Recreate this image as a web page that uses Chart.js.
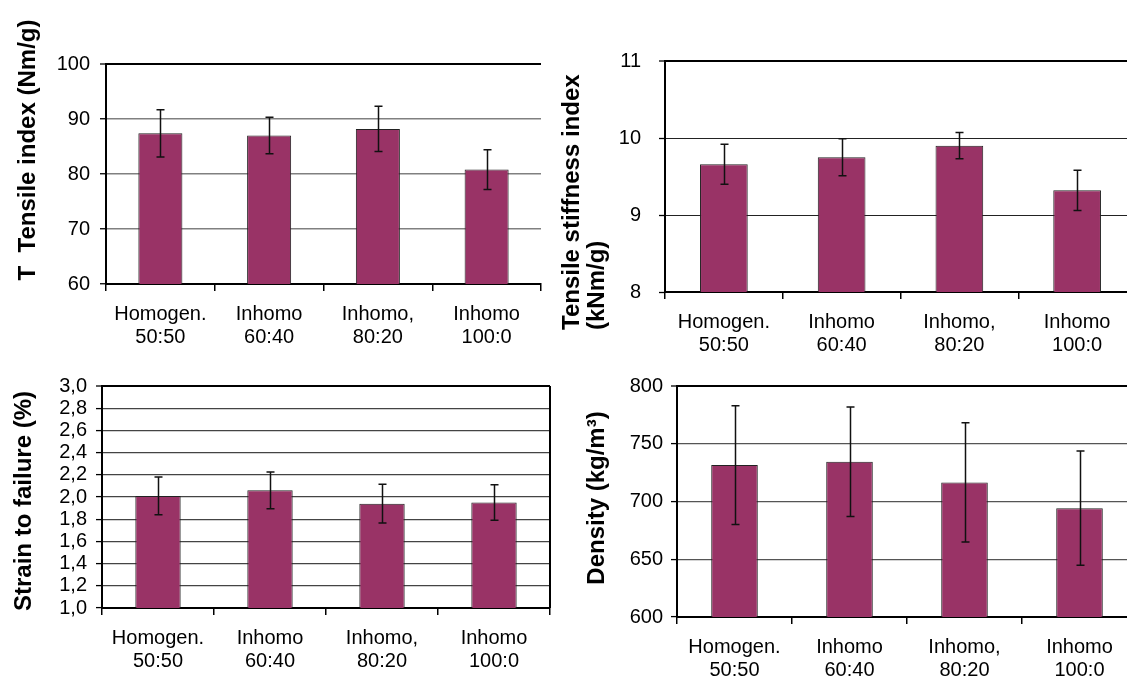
<!DOCTYPE html>
<html>
<head>
<meta charset="utf-8">
<script src="https://cdn.jsdelivr.net/npm/chart.js@4.4.1/dist/chart.umd.min.js"></script>
<style>
  html, body { margin: 0; padding: 0; background: #fff; overflow: hidden; width: 1127px; height: 684px; }
  canvas { position: absolute; }
</style>
</head>
<body>
<canvas id="tensile" width="560" height="350" style="left:0;top:0"></canvas>
<canvas id="stiffness" width="600" height="360" style="left:560px;top:0"></canvas>
<canvas id="strain" width="560" height="334" style="left:0;top:350px"></canvas>
<canvas id="density" width="600" height="334" style="left:560px;top:350px"></canvas>
<script>
// categories shared by all four panels
const categories = [['Homogen.', '50:50'], ['Inhomo', '60:40'], ['Inhomo,', '80:20'], ['Inhomo', '100:0']];

// mean values and +/- error
const tensileIndex = [87.4, 87.0, 88.2, 80.8];
const tensileErr = [4.3, 3.3, 4.1, 3.6];
const stiffnessIndex = [9.66, 9.75, 9.90, 9.32];
const stiffnessErr = [0.26, 0.24, 0.17, 0.26];
const strainToFailure = [2.01, 2.06, 1.94, 1.95];
const strainErr = [0.17, 0.165, 0.175, 0.16];
const density = [731.5, 734.4, 716.5, 694.2];
const densityErr = [51.5, 47.4, 51.6, 49.5];

// y ranges: [min, max, step]
const tensileRange = [60, 100, 10];
const stiffnessRange = [8, 11, 1];
const strainRange = [1.0, 3.0, 0.2];
const densityRange = [600, 800, 50];

const FONT = '"Liberation Sans", Arial, sans-serif';

const errorBars = {
  id: 'errorBars',
  afterDatasetsDraw(chart, args, opts) {
    const ctx = chart.ctx, y = chart.scales.y;
    const vals = chart.data.datasets[0].data;
    ctx.save();
    ctx.strokeStyle = '#111';
    ctx.lineWidth = 1.5;
    chart.getDatasetMeta(0).data.forEach((bar, i) => {
      const top = y.getPixelForValue(vals[i] + opts.errors[i]);
      const bot = y.getPixelForValue(vals[i] - opts.errors[i]);
      const x = Math.round(bar.x) + 0.5;
      ctx.beginPath();
      ctx.moveTo(x, top); ctx.lineTo(x, bot);
      ctx.moveTo(x - 4, top); ctx.lineTo(x + 4, top);
      ctx.moveTo(x - 4, bot); ctx.lineTo(x + 4, bot);
      ctx.stroke();
    });
    ctx.restore();
  }
};

const sideTitles = {
  id: 'sideTitles',
  afterDraw(chart, args, opts) {
    const ctx = chart.ctx;
    const a = chart.chartArea;
    if (opts.rightBorder) {
      ctx.save();
      ctx.strokeStyle = '#000';
      ctx.lineWidth = 2;
      ctx.beginPath();
      ctx.moveTo(a.right, a.top); ctx.lineTo(a.right, a.bottom);
      ctx.stroke();
      ctx.restore();
    }
    (opts.lines || []).forEach(l => {
      ctx.save();
      ctx.translate(l.x, l.y);
      ctx.rotate(-Math.PI / 2);
      ctx.font = 'bold 24px ' + FONT;
      ctx.fillStyle = '#000';
      ctx.textAlign = l.align || 'center';
      ctx.textBaseline = 'middle';
      ctx.fillText(l.text, 0, 0);
      ctx.restore();
    });
  }
};

function barPanel(id, values, errors, range, fmt, geo, titleLines, rightBorder) {
  const [min, max, step] = range;
  const isTop = c => c.tick && Math.abs(c.tick.value - max) < 1e-9;
  return new Chart(document.getElementById(id), {
    type: 'bar',
    data: {
      labels: categories,
      datasets: [{
        data: values,
        backgroundColor: '#993366',
        borderColor: '#222',
        borderWidth: 1,
        categoryPercentage: 1,
        barPercentage: 0.405
      }]
    },
    options: {
      responsive: false,
      animation: false,
      events: [],
      layout: { padding: geo.padding },
      plugins: {
        legend: { display: false },
        tooltip: { enabled: false },
        errorBars: { errors: errors },
        sideTitles: { lines: titleLines, rightBorder: rightBorder }
      },
      scales: {
        x: {
          afterFit(s) { s.height = geo.xHeight; },
          grid: { display: true, drawOnChartArea: false, drawTicks: true, tickLength: 7, color: '#000', lineWidth: 1.5 },
          border: { display: true, color: '#000', width: 2 },
          ticks: { color: '#000', padding: 12, font: { family: FONT, size: 20, lineHeight: 1.16 }, maxRotation: 0, autoSkip: false }
        },
        y: {
          min: min, max: max,
          afterFit(s) { s.width = geo.yWidth; },
          grid: {
            color: c => isTop(c) ? '#000' : geo.gridColor,
            lineWidth: c => isTop(c) ? 2 : geo.gridWidth,
            tickLength: 6, tickColor: '#000', tickWidth: 1.3
          },
          border: { display: true, color: '#000', width: 2 },
          ticks: {
            stepSize: step, color: '#000', padding: geo.tickPad, autoSkip: false,
            font: { family: FONT, size: 20 },
            callback: fmt
          }
        }
      }
    },
    plugins: [errorBars, sideTitles]
  });
}

const plain = v => String(Math.round(v));
const comma = v => v.toFixed(1).replace('.', ',');

barPanel('tensile', tensileIndex, tensileErr, tensileRange, plain,
  { padding: { top: 64, right: 19, bottom: 0, left: 0 }, yWidth: 106, xHeight: 66, tickPad: 10, gridColor: '#808080', gridWidth: 1.5 },
  [{ text: 'T  Tensile index (Nm/g)', x: 28, y: 150 }], false);

barPanel('stiffness', stiffnessIndex, stiffnessErr, stiffnessRange, plain,
  { padding: { top: 61, right: 24, bottom: 0, left: 0 }, yWidth: 105, xHeight: 68, tickPad: 18, gridColor: '#222', gridWidth: 1 },
  [{ text: 'Tensile stiffness index', x: 12, y: 330, align: 'left' },
   { text: '(kNm/g)', x: 37, y: 330, align: 'left' }], false);

barPanel('strain', strainToFailure, strainErr, strainRange, comma,
  { padding: { top: 36, right: 10, bottom: 0, left: 0 }, yWidth: 102, xHeight: 76, tickPad: 9, gridColor: '#444', gridWidth: 1.2 },
  [{ text: 'Strain to failure (%)', x: 24, y: 151 }], true);

barPanel('density', density, densityErr, densityRange, plain,
  { padding: { top: 36, right: 23, bottom: 0, left: 0 }, yWidth: 117, xHeight: 67, tickPad: 8, gridColor: '#555', gridWidth: 1.2 },
  [{ text: 'Density (kg/m³)', x: 37, y: 148 }], false);
</script>
</body>
</html>
